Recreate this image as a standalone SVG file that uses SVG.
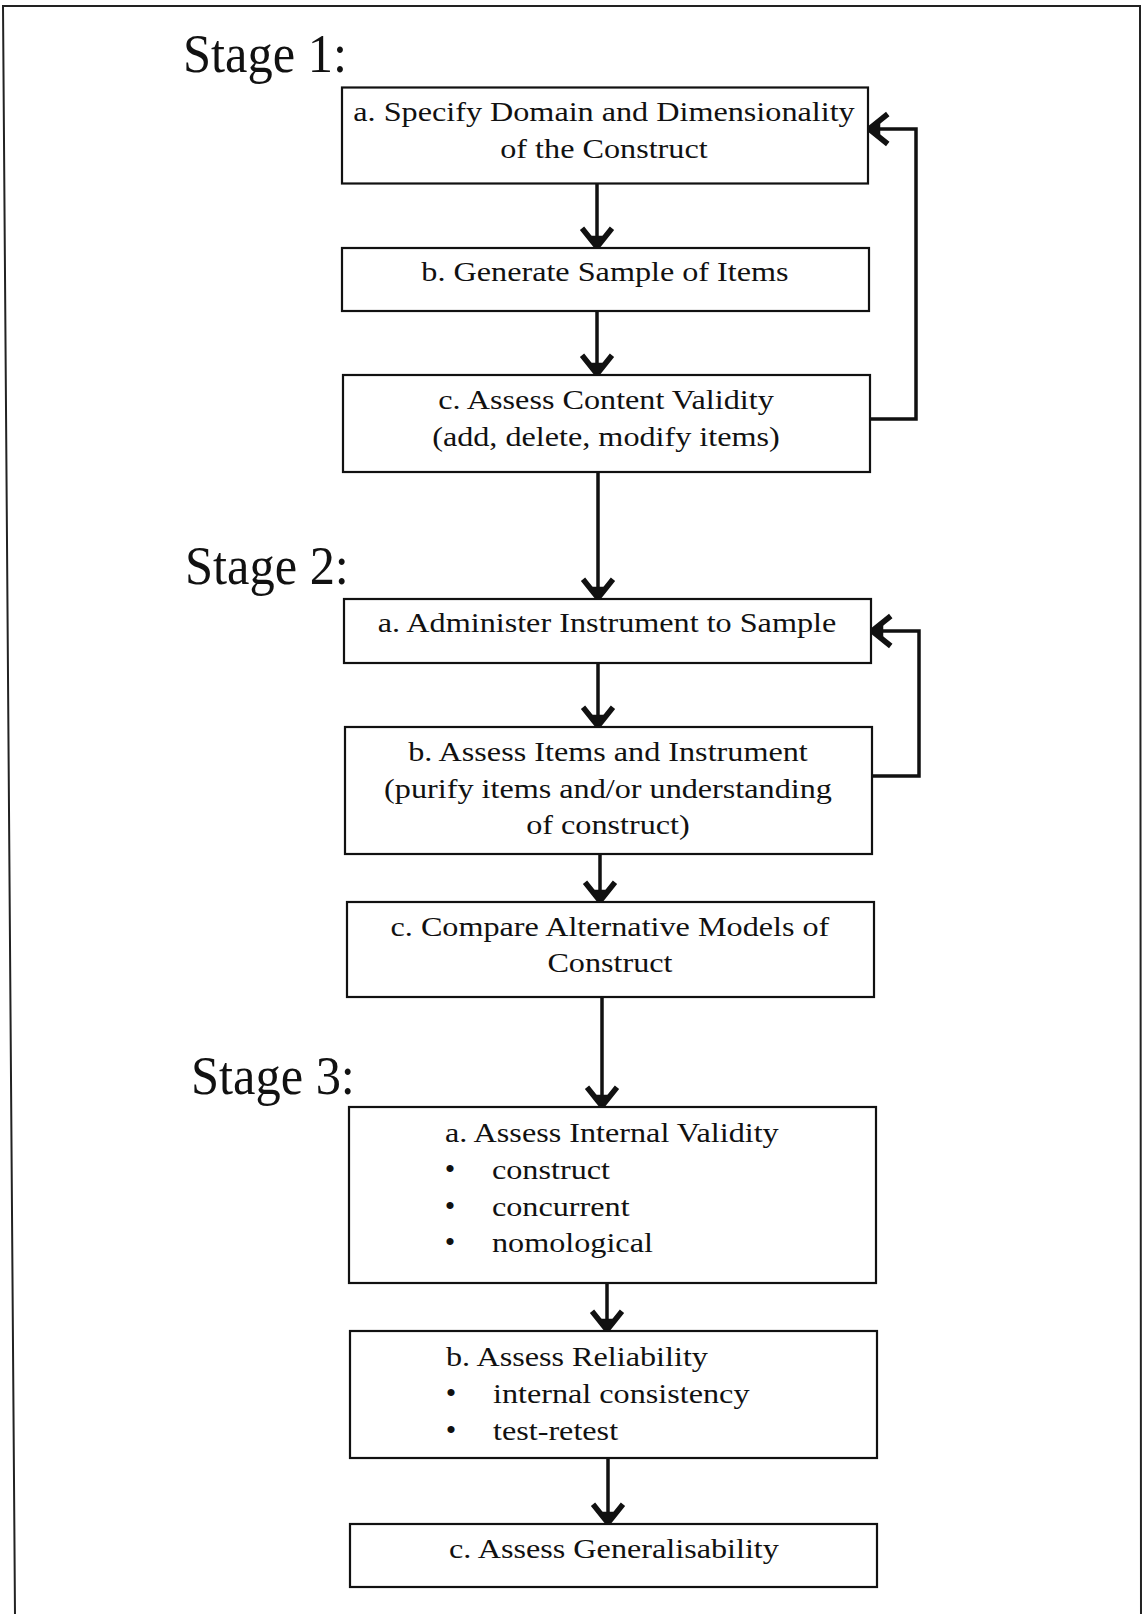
<svg xmlns="http://www.w3.org/2000/svg" width="1142" height="1614" viewBox="0 0 1142 1614">
  <style>
    .frame { fill: none; stroke: #222; stroke-width: 2; }
    .box { fill: #fff; stroke: #111; stroke-width: 2.2; }
    .conn { fill: none; stroke: #111; stroke-width: 3.5; }
    .stage { font-family: "Liberation Serif", serif; font-size: 52px; fill: #111;
             transform-box: fill-box; transform-origin: left bottom; transform: scale(0.97, 1.06); }
    .t { font-family: "Liberation Serif", serif; font-size: 28px; fill: #111;
         transform-box: fill-box; transform-origin: center; transform: scaleX(1.15); }
    .c { text-anchor: middle; }
    .l { transform-origin: left center; }
    .dot { font-family: "Liberation Serif", serif; font-size: 30px; fill: #111; text-anchor: middle; }
  </style>
  <defs>
    <!-- heavy chevron arrowhead shared by every connector -->
    <marker id="head" markerUnits="userSpaceOnUse" markerWidth="40" markerHeight="40"
            viewBox="-22 -16 26 32" refX="0" refY="0" orient="auto">
      <path d="M-15,-12 L0,0 L-15,12" fill="none" stroke="#111" stroke-width="4.4" stroke-linejoin="miter"/>
      <path d="M-9,-6 L0,0 L-9,6 Z" fill="#111"/>
    </marker>
  </defs>

  <rect width="1142" height="1614" fill="#fff"/>

  <!-- page frame -->
  <g id="frame">
    <path class="frame" d="M15,1614 L3,6 L1140,6 L1141,1614"/>
  </g>

  <!-- stage headings -->
  <g id="stage-1"><text class="stage" x="183" y="73">Stage 1:</text></g>
  <g id="stage-2"><text class="stage" x="185" y="585">Stage 2:</text></g>
  <g id="stage-3"><text class="stage" x="191" y="1095">Stage 3:</text></g>

  <!-- connectors -->
  <g id="connectors">
    <path class="conn" d="M597,183 L597,247" marker-end="url(#head)"/>
    <path class="conn" d="M597,311 L597,374" marker-end="url(#head)"/>
    <path class="conn" d="M870,419 L916,419 L916,129 L869,129" marker-end="url(#head)"/>
    <path class="conn" d="M598,472 L598,598" marker-end="url(#head)"/>
    <path class="conn" d="M598,663 L598,726" marker-end="url(#head)"/>
    <path class="conn" d="M872,776 L919,776 L919,631 L872,631" marker-end="url(#head)"/>
    <path class="conn" d="M600,854 L600,901" marker-end="url(#head)"/>
    <path class="conn" d="M602,997 L602,1106" marker-end="url(#head)"/>
    <path class="conn" d="M607,1283 L607,1330" marker-end="url(#head)"/>
    <path class="conn" d="M608,1458 L608,1523" marker-end="url(#head)"/>
  </g>

  <!-- Stage 1 -->
  <g id="s1a">
    <rect class="box" x="342" y="87.5" width="526" height="96"/>
    <text class="t c" x="604" y="121">a. Specify Domain and Dimensionality</text>
    <text class="t c" x="604" y="158">of the Construct</text>
  </g>
  <g id="s1b">
    <rect class="box" x="342" y="248" width="527" height="63"/>
    <text class="t c" x="605" y="281">b. Generate Sample of Items</text>
  </g>
  <g id="s1c">
    <rect class="box" x="343" y="375" width="527" height="97"/>
    <text class="t c" x="606" y="409">c. Assess Content Validity</text>
    <text class="t c" x="606" y="446">(add, delete, modify items)</text>
  </g>

  <!-- Stage 2 -->
  <g id="s2a">
    <rect class="box" x="344" y="599" width="527" height="64"/>
    <text class="t c" x="607" y="632">a. Administer Instrument to Sample</text>
  </g>
  <g id="s2b">
    <rect class="box" x="345" y="727" width="527" height="127"/>
    <text class="t c" x="608" y="761">b. Assess Items and Instrument</text>
    <text class="t c" x="608" y="798">(purify items and/or understanding</text>
    <text class="t c" x="608" y="834">of construct)</text>
  </g>
  <g id="s2c">
    <rect class="box" x="347" y="902" width="527" height="95"/>
    <text class="t c" x="610" y="936">c. Compare Alternative Models of</text>
    <text class="t c" x="610" y="972">Construct</text>
  </g>

  <!-- Stage 3 -->
  <g id="s3a">
    <rect class="box" x="349" y="1107" width="527" height="176"/>
    <text class="t l" x="445" y="1142">a. Assess Internal Validity</text>
    <text class="dot" x="450" y="1179">•</text>
    <text class="t l" x="492" y="1179">construct</text>
    <text class="dot" x="450" y="1216">•</text>
    <text class="t l" x="492" y="1216">concurrent</text>
    <text class="dot" x="450" y="1252">•</text>
    <text class="t l" x="492" y="1252">nomological</text>
  </g>
  <g id="s3b">
    <rect class="box" x="350" y="1331" width="527" height="127"/>
    <text class="t l" x="446" y="1366">b. Assess Reliability</text>
    <text class="dot" x="451" y="1403">•</text>
    <text class="t l" x="493" y="1403">internal consistency</text>
    <text class="dot" x="451" y="1440">•</text>
    <text class="t l" x="493" y="1440">test-retest</text>
  </g>
  <g id="s3c">
    <rect class="box" x="350" y="1524" width="527" height="63"/>
    <text class="t c" x="614" y="1558">c. Assess Generalisability</text>
  </g>
</svg>
